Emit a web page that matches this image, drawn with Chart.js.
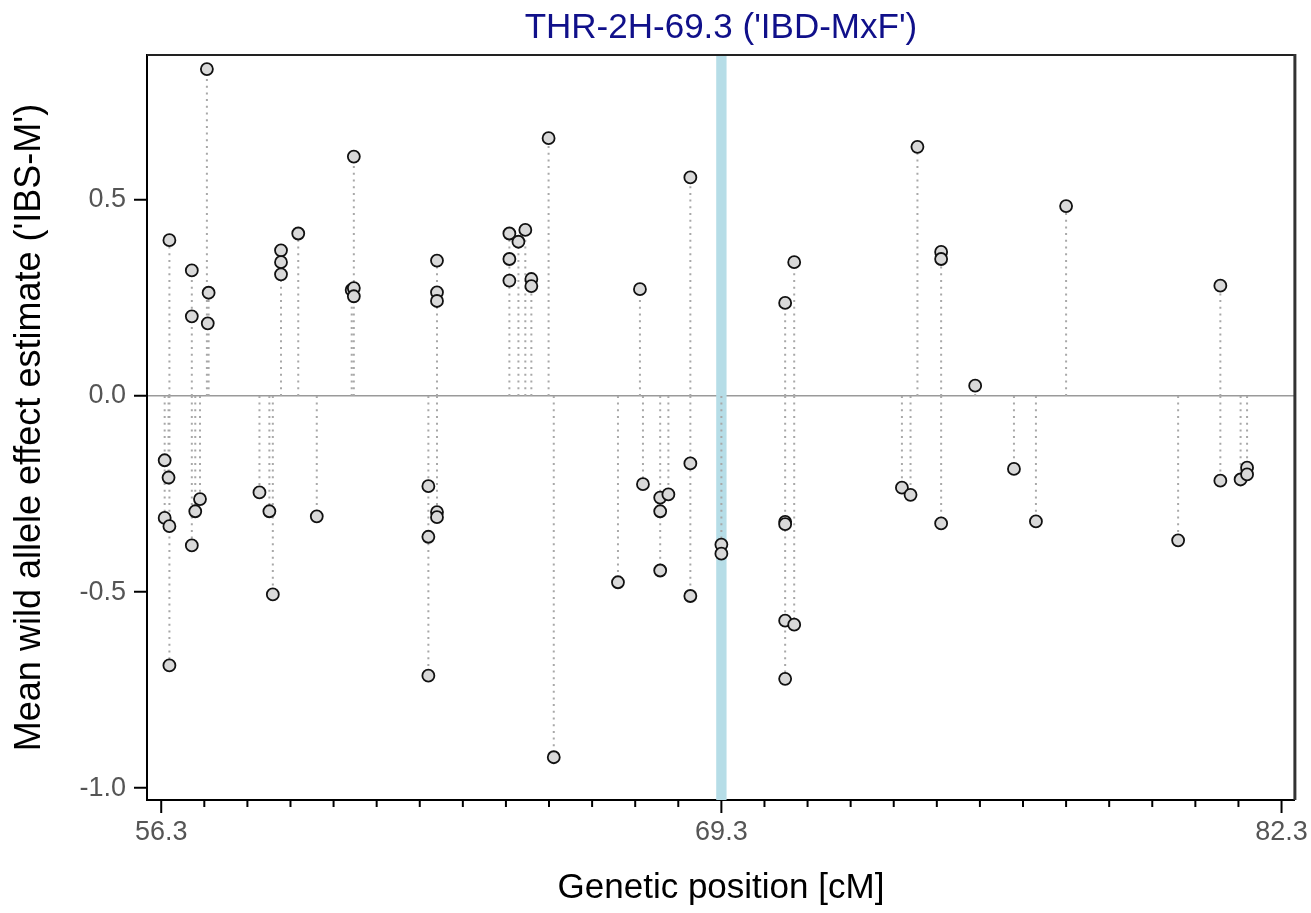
<!DOCTYPE html>
<html>
<head>
<meta charset="utf-8">
<script src="https://cdn.jsdelivr.net/npm/chart.js@4"></script>
<style>
  html, body { margin: 0; padding: 0; background: #fff; }
  #wrap { width: 1311px; height: 913px; }
</style>
</head>
<body>
<div id="wrap"><canvas id="c"></canvas></div>
<script>
// marker positions (cM) and mean wild allele effects
const positions = [56.38, 56.47, 56.38, 56.49, 56.49, 56.49, 57.01, 57.01, 57.01, 57.09,
    57.20, 57.36, 57.40, 57.38, 58.58, 58.81, 58.89, 59.08, 59.08, 59.08,
    59.48, 59.91, 60.77, 60.72, 60.77, 60.77, 62.50, 62.50, 62.50, 62.70,
    62.70, 62.70, 62.70, 62.70, 64.38, 64.59, 64.75, 64.38, 64.38, 64.89,
    64.89, 65.29, 65.41, 66.90, 67.41, 67.48, 67.88, 68.07, 67.88, 67.88,
    68.58, 68.58, 68.58, 69.30, 69.30, 70.78, 70.99, 70.78, 70.78, 70.78,
    70.99, 70.78, 73.49, 73.69, 73.85, 74.40, 74.40, 74.40, 75.19, 76.09,
    76.60, 77.30, 79.90, 80.88, 80.88, 81.35, 81.50, 81.50];
const effects = [-0.164, -0.208, -0.311, -0.332, -0.687, 0.397, 0.320, 0.203, -0.381, -0.294,
    -0.263, 0.833, 0.263, 0.185, -0.246, -0.294, -0.506, 0.371, 0.341, 0.310,
    0.414, -0.307, 0.610, 0.270, 0.275, 0.254, -0.230, -0.359, -0.713, 0.345,
    0.264, 0.242, -0.296, -0.309, 0.414, 0.393, 0.423, 0.349, 0.294, 0.298,
    0.280, 0.657, -0.921, -0.475, 0.272, -0.225, -0.259, -0.251, -0.294, -0.445,
    0.557, -0.172, -0.510, -0.379, -0.402, 0.237, 0.341, -0.321, -0.327, -0.573,
    -0.583, -0.721, -0.234, -0.252, 0.635, 0.367, 0.349, -0.325, 0.026, -0.186,
    -0.320, 0.484, -0.368, 0.281, -0.216, -0.213, -0.183, -0.200];
const xLabels = [56.3, 69.3, 82.3];
const yTicks = [-1.0, -0.5, 0.0, 0.5];
const qtlPos = 69.3;

const FONT = 'Liberation Sans, Arial, sans-serif';
const BAND_HALF = 0.12;

const points = positions.map((x, i) => ({ x, y: effects[i] }));
// stems from 0 to each point, broken by null
const stems = [];
positions.forEach((x, i) => { stems.push({ x, y: 0 }, { x, y: effects[i] }, { x, y: null }); });

const xTickVals = [];
for (let i = 0; i <= 26; i++) xTickVals.push(Math.round((xLabels[0] + i) * 10) / 10);

const frame = {
    id: 'frame',
    beforeDatasetsDraw(chart) {
        const { ctx, chartArea: a, scales: { x } } = chart;
        const l = x.getPixelForValue(qtlPos - BAND_HALF), r = x.getPixelForValue(qtlPos + BAND_HALF);
        ctx.save();
        ctx.fillStyle = '#b6dde7';
        ctx.fillRect(l, a.top, r - l, a.bottom - a.top);
        ctx.restore();
    },
    afterDraw(chart) {
        const { ctx, chartArea: a, scales: { x } } = chart;
        ctx.save();
        ctx.strokeStyle = '#222'; ctx.lineWidth = 2;
        ctx.beginPath();
        ctx.moveTo(a.left, a.top); ctx.lineTo(a.right, a.top);
        ctx.stroke();
        ctx.strokeStyle = '#333'; ctx.lineWidth = 3;
        ctx.beginPath();
        ctx.moveTo(a.right, a.top - 1); ctx.lineTo(a.right, a.bottom);
        ctx.stroke();
        ctx.strokeStyle = '#000'; ctx.lineWidth = 2;
        x.ticks.forEach(t => {
            const px = x.getPixelForValue(t.value);
            const len = xLabels.includes(t.value) ? 13 : 7;
            ctx.beginPath(); ctx.moveTo(px, a.bottom); ctx.lineTo(px, a.bottom + len); ctx.stroke();
        });
        ctx.restore();
    }
};

new Chart(document.getElementById('c'), {
    type: 'scatter',
    data: {
        datasets: [
            { data: points, pointRadius: 6, pointBorderWidth: 1.8,
              pointBackgroundColor: '#d9d9d9', pointBorderColor: '#111', showLine: false },
            { data: stems, showLine: true, spanGaps: false, pointRadius: 0,
              borderColor: '#a8a8a8', borderWidth: 2, borderDash: [2, 4.7] }
        ]
    },
    options: {
        responsive: true, maintainAspectRatio: false, animation: false,
        layout: { padding: { left: 0, right: 14, top: 0, bottom: 0 } },
        plugins: {
            legend: { display: false }, tooltip: { enabled: false },
            title: { display: true, fullSize: false, text: "THR-2H-69.3 ('IBD-MxF')", color: '#10108a',
                font: { family: FONT, size: 35, weight: 'normal' }, padding: { top: 7, bottom: 6 } }
        },
        scales: {
            x: {
                min: 55.97, max: 82.61,
                afterBuildTicks: s => { s.ticks = xTickVals.map(v => ({ value: v })); },
                afterFit: s => { s.height = 113; },
                ticks: { autoSkip: false, maxRotation: 0, padding: 3, color: '#555',
                    font: { family: FONT, size: 27 },
                    callback: v => xLabels.includes(Math.round(v * 10) / 10) ? v.toFixed(1) : '' },
                grid: { drawOnChartArea: false, tickLength: 13, tickColor: 'transparent' },
                border: { color: '#000', width: 2 },
                title: { display: true, text: 'Genetic position [cM]', color: '#000',
                    font: { family: FONT, size: 35 }, padding: { top: 0, bottom: 4 } }
            },
            y: {
                min: -1.03, max: 0.869,
                afterBuildTicks: s => { s.ticks = yTicks.map(v => ({ value: v })); },
                afterFit: s => { s.width = 147; },
                ticks: { padding: 8, color: '#555', font: { family: FONT, size: 27 },
                    callback: v => v.toFixed(1) },
                grid: { color: c => (c.tick && c.tick.value === 0) ? '#9a9a9a' : 'transparent',
                    lineWidth: 1.5, tickLength: 13, tickColor: '#000', tickWidth: 2 },
                border: { color: '#000', width: 2 },
                title: { display: true, text: "Mean wild allele effect estimate ('IBS-M')", color: '#000',
                    font: { family: FONT, size: 36 }, padding: { top: 8, bottom: 0 } }
            }
        }
    },
    plugins: [frame]
});
</script>
</body>
</html>
